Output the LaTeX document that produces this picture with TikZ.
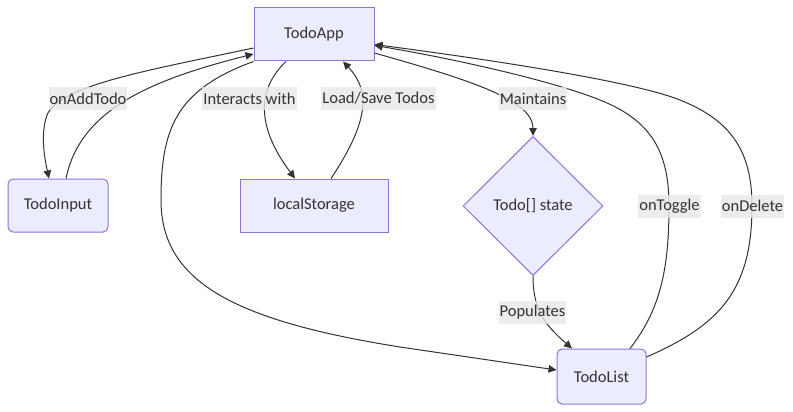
\documentclass[tikz,border=0pt]{standalone}
\usepackage{fontspec}
\setmainfont{Carlito}
\usetikzlibrary{arrows.meta,shapes.geometric,calc}
\definecolor{nodefill}{HTML}{ECECFF}
\definecolor{nodeline}{HTML}{9370DB}
\definecolor{edgecol}{HTML}{333333}
\definecolor{lblfill}{HTML}{E8E8E8}
\begin{document}
\begin{tikzpicture}[x=1pt,y=-1pt,
  txt/.style={text=edgecol,font=\fontsize{16.5}{19}\selectfont},
  box/.style={txt,draw=nodeline,fill=nodefill,line width=1pt,inner sep=0pt},
  rbox/.style={box,rounded corners=5pt},
  dia/.style={box,diamond,aspect=1},
  lbl/.style={txt,fill=lblfill,fill opacity=0.8,text opacity=1,inner xsep=1pt,inner ysep=0pt,minimum height=23pt},
  edge/.style={draw=edgecol,line width=1pt,-{Triangle[length=8pt,width=7.5pt]}}
]
\useasboundingbox[fill=white] (0,0) rectangle (793,412);

\node[box, minimum width=120pt, minimum height=53pt] (app) at (314,34.5) {TodoApp};
\node[rbox, minimum width=100pt, minimum height=53pt] (input) at (58,205.5) {TodoInput};
\node[box, minimum width=148pt, minimum height=53pt] (ls) at (314,205.5) {localStorage};
\node[dia, minimum width=140pt, minimum height=139pt] (state) at (533,206) {Todo[] state};
\node[rbox, minimum width=89pt, minimum height=55pt] (list) at (601.5,376.5) {TodoList};

% TodoApp -> TodoInput
\draw[edge] ($(app.west)+(0,13.5)$) .. controls (150,70) and (60,85) .. (47,115)
  .. controls (40,135) and (45,160) .. ($(input.north)+(-9,0)$);
% TodoInput -> TodoApp
\draw[edge] ($(input.north)+(8,0)$) .. controls (80,110) and (150,80) .. ($(app.west)+(0,19.5)$);
% TodoApp -> TodoList
\draw[edge] (app.south west) .. controls (175,90) and (161,130) .. (161,200)
  .. controls (161,280) and (230,320) .. (400,347) -- ($(list.west)+(0,-6.5)$);
% TodoApp -> localStorage
\draw[edge] ($(app.south)+(-28,0)$) .. controls (258,88) and (255,125) .. ($(ls.north)+(-19,0)$);
% localStorage -> TodoApp
\draw[edge] ($(ls.north)+(17,0)$) .. controls (370,120) and (370,90) .. ($(app.south)+(29,0)$);
% TodoApp -> state
\draw[edge] ($(app.east)+(0,18.5)$) .. controls (470,80) and (533,100) .. (state.north);
% state -> TodoList
\draw[edge] (state.south) .. controls (533,310) and (545,325) .. ($(list.north)+(-29.5,0)$);
% TodoList -> TodoApp (onToggle)
\draw[edge] ($(list.north)+(28.5,0)$) .. controls (660,310) and (669,270) .. (669,206)
  .. controls (669,150) and (650,120) .. (600,100)
  .. controls (550,80) and (450,58) .. ($(app.east)+(0,11)$);
% TodoList -> TodoApp (onDelete)
\draw[edge] ($(list.east)+(0,-19.5)$) .. controls (720,325) and (752,290) .. (752,206)
  .. controls (752,150) and (730,120) .. (680,100)
  .. controls (630,80) and (470,57) .. ($(app.east)+(0,10)$);

\node[lbl] (l1) at (88,98.5) {onAddTodo};
\node[lbl] (l2) at (249.5,98.5) {Interacts with};
\node[lbl] (l3) at (378.5,98.5) {Load/Save Todos};
\node[lbl] (l4) at (533,98.5) {Maintains};
\node[lbl] (l5) at (669.5,206) {onToggle};
\node[lbl] (l6) at (752.5,206) {onDelete};
\node[lbl] (l7) at (532.5,312.5) {Populates};
\end{tikzpicture}
\end{document}
